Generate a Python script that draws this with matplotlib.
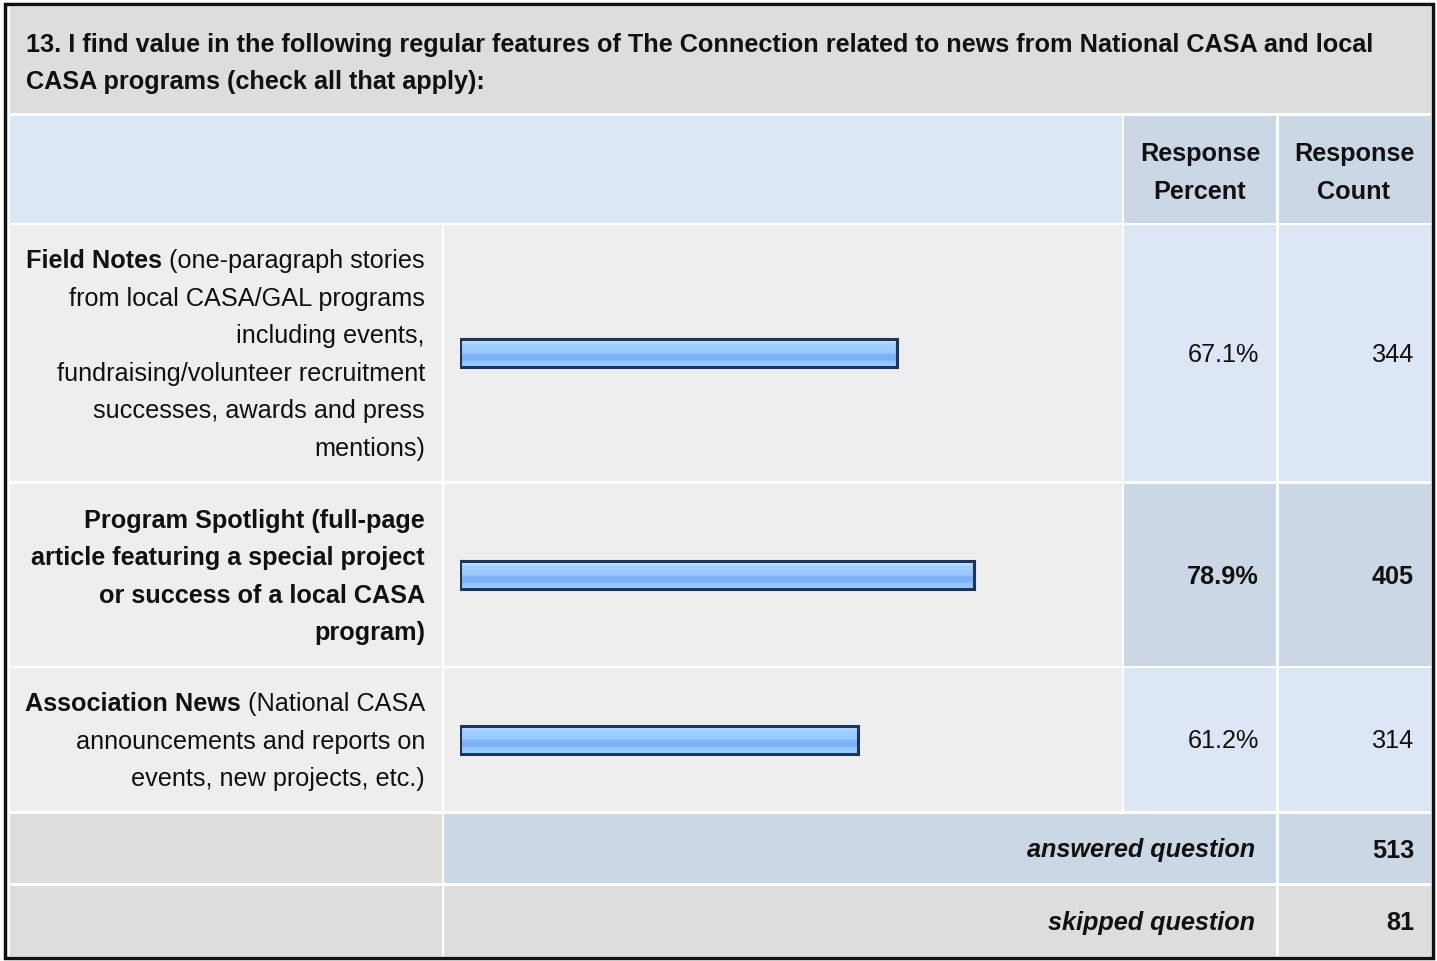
import matplotlib
matplotlib.use("Agg")
import matplotlib.pyplot as plt
import numpy as np
from matplotlib.patches import Rectangle
from matplotlib.colors import LinearSegmentedColormap

plt.rcParams["font.family"] = ["Liberation Sans", "DejaVu Sans"]

# ---- data ----
question = ["13. I find value in the following regular features of The Connection related to news from National CASA and local",
            "CASA programs (check all that apply):"]
headers = [["Response", "Percent"], ["Response", "Count"]]
# each label: list of lines, each line = (bold part, regular part)
labels = [
    [("Field Notes", " (one-paragraph stories"), ("", "from local CASA/GAL programs"),
     ("", "including events,"), ("", "fundraising/volunteer recruitment"),
     ("", "successes, awards and press"), ("", "mentions)")],
    [("Program Spotlight (full-page", ""), ("article featuring a special project", ""),
     ("or success of a local CASA", ""), ("program)", "")],
    [("Association News", " (National CASA"), ("", "announcements and reports on"),
     ("", "events, new projects, etc.)")],
]
percents = [67.1, 78.9, 61.2]
counts = [344, 405, 314]
highlight = [False, True, False]
answered = 513
skipped = 81

W, H = 1437, 961
FS = 18.2
LINE = 37.5
DY = 2  # small nudge so text sits like the reference
INK = "#111111"

C_TITLE = "#dddddd"
C_LIGHT = "#dce6f4"
C_DARK = "#cbd7e5"
C_GRAY = "#eeeeee"

fig = plt.figure(figsize=(W / 100, H / 100), dpi=100)
fig.patch.set_facecolor("white")
ax = fig.add_axes([0, 0, 1, 1])
ax.set_xlim(0, W)
ax.set_ylim(H, 0)
ax.axis("off")


def cell(x0, y0, x1, y1, color):
    ax.add_patch(Rectangle((x0, y0), x1 - x0, y1 - y0, facecolor=color, edgecolor="none"))


def txt(x, y, s, **kw):
    kw.setdefault("fontsize", FS)
    kw.setdefault("va", "center")
    kw.setdefault("color", INK)
    return ax.text(x, y + DY, s, **kw)


rows = [(116, 223), (225, 481), (484, 666), (668, 811), (814, 883), (886, 956)]

# title
cell(10, 7, 1431, 113, C_TITLE)
for i, line in enumerate(question):
    txt(26, 43 + i * LINE, line, fontweight="bold", ha="left")

# header
y0, y1 = rows[0]
cell(10, y0, 1122, y1, C_LIGHT)
cell(1124, y0, 1276, y1, C_DARK)
cell(1279, y0, 1431, y1, C_DARK)
for cxh, lines in zip([1200, 1354], headers):
    for i, s in enumerate(lines):
        txt(cxh, 152 + i * 38, s, fontweight="bold", ha="center")

fig.canvas.draw()
renderer = fig.canvas.get_renderer()

row_centers = []
for k in range(3):
    y0, y1 = rows[k + 1]
    yc = (y0 + y1) / 2
    row_centers.append(yc)
    cell(10, y0, 442, y1, C_GRAY)
    cell(444, y0, 1122, y1, C_GRAY)
    bg = C_DARK if highlight[k] else C_LIGHT
    cell(1124, y0, 1276, y1, bg)
    cell(1279, y0, 1431, y1, bg)
    wt = "bold" if highlight[k] else "normal"
    txt(1259, yc, f"{percents[k]:.1f}%", fontweight=wt, ha="right")
    txt(1414, yc, str(counts[k]), fontweight=wt, ha="right")

    lines = labels[k]
    n = len(lines)
    top = yc - (n - 1) / 2 * LINE
    for i, (b, r) in enumerate(lines):
        ly = top + i * LINE
        xr = 425
        if r:
            t = txt(xr, ly, r, ha="right")
            xr = t.get_window_extent(renderer).x0
        if b:
            txt(xr, ly, b, fontweight="bold", ha="right")

# answered / skipped
y0, y1 = rows[4]
cell(10, y0, 442, y1, C_TITLE)
cell(444, y0, 1276, y1, C_DARK)
cell(1279, y0, 1431, y1, C_DARK)
txt(1255, (y0 + y1) / 2, "answered question", fontweight="bold", fontstyle="italic", ha="right")
txt(1414, (y0 + y1) / 2, str(answered), fontweight="bold", ha="right")
y0, y1 = rows[5]
cell(10, y0, 442, y1, C_TITLE)
cell(444, y0, 1276, y1, C_TITLE)
cell(1279, y0, 1431, y1, C_TITLE)
txt(1255, (y0 + y1) / 2, "skipped question", fontweight="bold", fontstyle="italic", ha="right")
txt(1414, (y0 + y1) / 2, str(skipped), fontweight="bold", ha="right")

# outer frame
ax.add_patch(Rectangle((5, 4), 1428, 954, facecolor="none", edgecolor="#111111", lw=2.5))

# ---- bars on their own percent scale ----
bx0, bx1 = 460, 460 + 651
by0, by1 = 225, 811
bx = fig.add_axes([bx0 / W, 1 - by1 / H, (bx1 - bx0) / W, (by1 - by0) / H])
bx.axis("off")
bx.patch.set_alpha(0)

grad = LinearSegmentedColormap.from_list("bar", [
    (0.0, "#d4e9ff"), (0.12, "#b4dbff"), (0.2, "#9fcdff"), (0.5, "#9acaff"),
    (0.55, "#7fb3f6"), (0.75, "#7db1f5"), (0.8, "#8ec2ff"), (1.0, "#9fcfff")])
BH = 28
bars = bx.barh(row_centers, percents, height=BH, color="none", edgecolor="#1d3558",
               linewidth=2.2, zorder=3)
for bar in bars:
    x, y = bar.get_x(), bar.get_y()
    w, h = bar.get_width(), bar.get_height()
    im = bx.imshow(np.linspace(0, 1, 64).reshape(-1, 1), cmap=grad, aspect="auto",
                   extent=(x, x + w, y + h, y), zorder=2, interpolation="bilinear")
    im.set_clip_path(bar)
bx.set_xlim(0, 100)
bx.set_ylim(by1, by0)

fig.savefig("out.png", dpi=100, facecolor="white")
